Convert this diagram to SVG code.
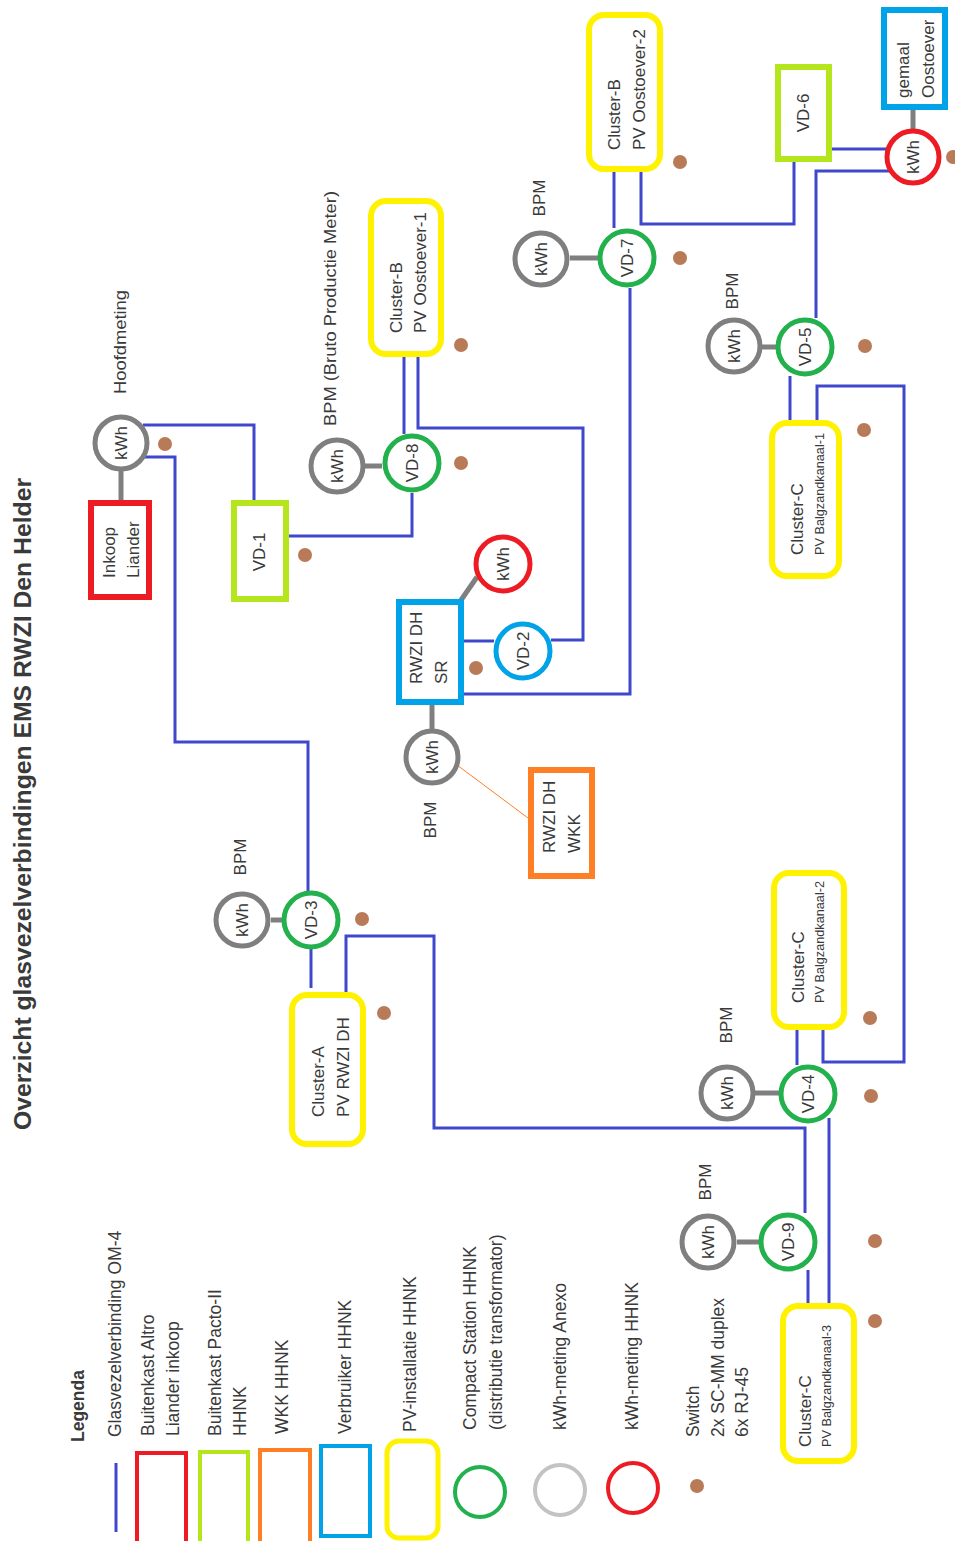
<svg xmlns="http://www.w3.org/2000/svg" width="955" height="1541" viewBox="0 0 955 1541">
<style>
.bg{fill:#ffffff}
.wire{fill:none;stroke:#3F48CC;stroke-width:3}
.link{fill:none;stroke:#7F7F7F;stroke-width:5}
.wkk{fill:none;stroke:#FF7F27;stroke-width:1}
.t{font-family:"Liberation Sans",Arial,sans-serif;font-size:17px;fill:#3A3A3A;dominant-baseline:central}
.s{font-size:12.7px}
.l{font-size:17.5px}
.m{text-anchor:middle}
.b{font-weight:bold}
.kwh{fill:#fff;stroke:#7F7F7F;stroke-width:5}
.kred{fill:#fff;stroke:#ED1C24;stroke-width:5}
.vd{fill:#fff;stroke:#22B14C;stroke-width:5}
.vdb{fill:#fff;stroke:#00A2E8;stroke-width:5}
.pv{fill:#fff;stroke:#FFF200;stroke-width:6}
.red{fill:#fff;stroke:#ED1C24;stroke-width:6}
.lime{fill:#fff;stroke:#B5E61D;stroke-width:6}
.blue{fill:#fff;stroke:#00A2E8;stroke-width:6}
.orange{fill:#fff;stroke:#FF7F27;stroke-width:6}
.dot{fill:#B97A57}
</style>
<rect class="bg" x="0" y="0" width="955" height="1541"/>

<text class="t b m" style="font-size:24px" transform="translate(22,804) rotate(-90)" textLength="652" lengthAdjust="spacingAndGlyphs">Overzicht glasvezelverbindingen EMS RWZI Den Helder</text>

<g id="connectors">
<path class="wire" d="M143,425 H254 V502"/>
<path class="wire" d="M143,457 H175 V742 H308 V892"/>
<path class="wire" d="M287,536 H412 V493"/>
<path class="wire" d="M404,355 V434"/>
<path class="wire" d="M418,355 V428 H583 V640 H551"/>
<path class="wire" d="M462,641 H494"/>
<path class="wire" d="M462,694 H630 V288"/>
<path class="wire" d="M614,170 V228"/>
<path class="wire" d="M641,170 V224 H794 V160"/>
<path class="wire" d="M830,149 H887"/>
<path class="wire" d="M889,171 H816 V318"/>
<path class="wire" d="M790,376 V422"/>
<path class="wire" d="M817,422 V386 H904 V1062 H823 V1028"/>
<path class="wire" d="M797,1028 V1065"/>
<path class="wire" d="M829,1118 V1305"/>
<path class="wire" d="M346,993 V936 H434 V1128 H805 V1213"/>
<path class="wire" d="M808,1270 V1305"/>
<path class="wire" d="M311,948 V988"/>
<path class="link" d="M121,470 V503"/>
<path class="link" d="M365,466 H382"/>
<path class="link" d="M570,258 H598"/>
<path class="link" d="M762,347 H776"/>
<path class="link" d="M271,920 H282"/>
<path class="link" d="M754,1093 H779"/>
<path class="link" d="M737,1242 H759"/>
<path class="link" d="M459,603 L477,577"/>
<path class="link" d="M432,704 V730"/>
<path class="link" d="M913,108 V130"/>
<path class="wkk" d="M457,765 L528,818"/>
</g>

<g id="hoofdmeting">
<circle class="kwh" cx="121" cy="443" r="26"/>
<text class="t m" transform="translate(121,443) rotate(-90)">kWh</text>
<text class="t m" transform="translate(120,342) rotate(-90)" textLength="104" lengthAdjust="spacingAndGlyphs">Hoofdmeting</text>
<circle class="dot" cx="165" cy="444" r="7"/>
</g>

<g id="inkoop-liander">
<rect class="red" x="91" y="503" width="58" height="94"/>
<text class="t" transform="translate(109,578) rotate(-90)">Inkoop</text>
<text class="t" transform="translate(133,578) rotate(-90)">Liander</text>
</g>

<g id="vd-1">
<rect class="lime" x="234" y="503" width="52" height="96"/>
<text class="t m" transform="translate(259,552) rotate(-90)">VD-1</text>
<circle class="dot" cx="305" cy="555" r="7"/>
</g>

<g id="vd-8">
<circle class="kwh" cx="337" cy="466" r="26"/>
<text class="t m" transform="translate(337,466) rotate(-90)">kWh</text>
<circle class="vd" cx="412" cy="463" r="27"/>
<text class="t m" transform="translate(412,463) rotate(-90)">VD-8</text>
<text class="t" transform="translate(330,426) rotate(-90)" textLength="235" lengthAdjust="spacingAndGlyphs">BPM  (Bruto Productie Meter)</text>
<circle class="dot" cx="461" cy="463" r="7"/>
</g>

<g id="cluster-b-1">
<rect class="pv" x="371" y="201" width="70" height="153" rx="15"/>
<text class="t" transform="translate(396,333) rotate(-90)">Cluster-B</text>
<text class="t" transform="translate(420,333) rotate(-90)">PV Oostoever-1</text>
<circle class="dot" cx="461" cy="345" r="7"/>
</g>

<g id="rwzi-dh-sr">
<rect class="blue" x="399" y="602" width="62" height="100"/>
<text class="t" transform="translate(416,684) rotate(-90)">RWZI DH</text>
<text class="t" transform="translate(441,684) rotate(-90)">SR</text>
<circle class="dot" cx="476" cy="668" r="7"/>
</g>

<g id="kwh-sr">
<circle class="kred" cx="503" cy="564" r="27"/>
<text class="t m" transform="translate(503,564) rotate(-90)">kWh</text>
</g>

<g id="vd-2">
<circle class="vdb" cx="523" cy="651" r="27"/>
<text class="t m" transform="translate(523,651) rotate(-90)">VD-2</text>
</g>

<g id="kwh-wkk">
<circle class="kwh" cx="432" cy="757" r="26"/>
<text class="t m" transform="translate(432,757) rotate(-90)">kWh</text>
<text class="t m" transform="translate(430,820) rotate(-90)">BPM</text>
</g>

<g id="rwzi-dh-wkk">
<rect class="orange" x="531" y="770" width="61" height="106"/>
<text class="t" transform="translate(549,853) rotate(-90)">RWZI DH</text>
<text class="t" transform="translate(574,853) rotate(-90)">WKK</text>
</g>

<g id="vd-7">
<circle class="kwh" cx="541" cy="259" r="26"/>
<text class="t m" transform="translate(541,259) rotate(-90)">kWh</text>
<text class="t m" transform="translate(539,198) rotate(-90)">BPM</text>
<circle class="vd" cx="627" cy="258" r="27"/>
<text class="t m" transform="translate(627,258) rotate(-90)">VD-7</text>
<circle class="dot" cx="680" cy="258" r="7"/>
</g>

<g id="cluster-b-2">
<rect class="pv" x="589" y="15" width="71" height="154" rx="15"/>
<text class="t" transform="translate(614,150) rotate(-90)">Cluster-B</text>
<text class="t" transform="translate(639,150) rotate(-90)">PV Oostoever-2</text>
<circle class="dot" cx="680" cy="162" r="7"/>
</g>

<g id="vd-6">
<rect class="lime" x="778" y="67" width="51" height="92"/>
<text class="t m" transform="translate(803,113) rotate(-90)">VD-6</text>
</g>

<g id="gemaal-oostoever">
<rect class="blue" x="884" y="10" width="61" height="97"/>
<text class="t" transform="translate(903,98) rotate(-90)">gemaal</text>
<text class="t" transform="translate(928,98) rotate(-90)">Oostoever</text>
</g>

<g id="kwh-gemaal">
<circle class="kred" cx="913" cy="157" r="26"/>
<text class="t m" transform="translate(913,157) rotate(-90)">kWh</text>
<circle class="dot" cx="953" cy="157" r="7"/>
</g>

<g id="vd-5">
<circle class="kwh" cx="734" cy="346" r="26"/>
<text class="t m" transform="translate(734,346) rotate(-90)">kWh</text>
<text class="t m" transform="translate(732,291) rotate(-90)">BPM</text>
<circle class="vd" cx="805" cy="347" r="27"/>
<text class="t m" transform="translate(805,347) rotate(-90)">VD-5</text>
<circle class="dot" cx="865" cy="346" r="7"/>
</g>

<g id="cluster-c-1">
<rect class="pv" x="772" y="423" width="67" height="153" rx="15"/>
<text class="t" transform="translate(797,555) rotate(-90)">Cluster-C</text>
<text class="t s" transform="translate(820,555) rotate(-90)">PV Balgzandkanaal-1</text>
<circle class="dot" cx="864" cy="430" r="7"/>
</g>

<g id="cluster-c-2">
<rect class="pv" x="774" y="873" width="70" height="154" rx="15"/>
<text class="t" transform="translate(798,1003) rotate(-90)">Cluster-C</text>
<text class="t s" transform="translate(820,1003) rotate(-90)">PV Balgzandkanaal-2</text>
<circle class="dot" cx="870" cy="1018" r="7"/>
</g>

<g id="vd-4">
<circle class="kwh" cx="727" cy="1093" r="26"/>
<text class="t m" transform="translate(727,1093) rotate(-90)">kWh</text>
<text class="t m" transform="translate(726,1025) rotate(-90)">BPM</text>
<circle class="vd" cx="808" cy="1094" r="27"/>
<text class="t m" transform="translate(808,1094) rotate(-90)">VD-4</text>
<circle class="dot" cx="871" cy="1096" r="7"/>
</g>

<g id="vd-9">
<circle class="kwh" cx="708" cy="1242" r="26"/>
<text class="t m" transform="translate(708,1242) rotate(-90)">kWh</text>
<text class="t m" transform="translate(705,1182) rotate(-90)">BPM</text>
<circle class="vd" cx="788" cy="1242" r="27"/>
<text class="t m" transform="translate(788,1242) rotate(-90)">VD-9</text>
<circle class="dot" cx="875" cy="1241" r="7"/>
</g>

<g id="cluster-c-3">
<rect class="pv" x="783" y="1306" width="71" height="155" rx="15"/>
<text class="t" transform="translate(805,1447) rotate(-90)">Cluster-C</text>
<text class="t s" transform="translate(827,1447) rotate(-90)">PV Balgzandkanaal-3</text>
<circle class="dot" cx="875" cy="1321" r="7"/>
</g>

<g id="vd-3">
<circle class="kwh" cx="242" cy="920" r="26"/>
<text class="t m" transform="translate(242,920) rotate(-90)">kWh</text>
<text class="t m" transform="translate(240,857) rotate(-90)">BPM</text>
<circle class="vd" cx="311" cy="920" r="27"/>
<text class="t m" transform="translate(311,920) rotate(-90)">VD-3</text>
<circle class="dot" cx="362" cy="919" r="7"/>
</g>

<g id="cluster-a">
<rect class="pv" x="292" y="995" width="71" height="149" rx="15"/>
<text class="t" transform="translate(318,1117) rotate(-90)">Cluster-A</text>
<text class="t" transform="translate(343,1117) rotate(-90)">PV RWZI DH</text>
<circle class="dot" cx="384" cy="1013" r="7"/>
</g>

<g id="legenda">
<text class="t b l" transform="translate(78,1442) rotate(-90)">Legenda</text>
<text class="t l" transform="translate(115,1437) rotate(-90)">Glasvezelverbinding OM-4</text>
<path d="M116,1463 V1532" stroke="#3F48CC" stroke-width="3" fill="none"/>
<text class="t l" transform="translate(148,1436) rotate(-90)">Buitenkast Altro</text>
<text class="t l" transform="translate(173,1436) rotate(-90)">Liander inkoop</text>
<rect x="137" y="1453" width="49" height="100" fill="#fff" stroke="#ED1C24" stroke-width="4"/>
<text class="t l" transform="translate(215,1436) rotate(-90)">Buitenkast Pacto-II</text>
<text class="t l" transform="translate(240,1436) rotate(-90)">HHNK</text>
<rect x="200" y="1452" width="48" height="100" fill="#fff" stroke="#B5E61D" stroke-width="4"/>
<text class="t l" transform="translate(282,1434) rotate(-90)">WKK HHNK</text>
<rect x="260" y="1450" width="50" height="100" fill="#fff" stroke="#FF7F27" stroke-width="4"/>
<text class="t l" transform="translate(345,1434) rotate(-90)">Verbruiker HHNK</text>
<rect x="321" y="1446" width="49" height="90" fill="#fff" stroke="#00A2E8" stroke-width="4"/>
<text class="t l" transform="translate(410,1432) rotate(-90)">PV-installatie HHNK</text>
<rect x="387" y="1441" width="51" height="97" rx="12" fill="#fff" stroke="#FFF200" stroke-width="5"/>
<text class="t l" transform="translate(470,1430) rotate(-90)">Compact Station HHNK</text>
<text class="t l" transform="translate(496,1430) rotate(-90)">(distributie transformator)</text>
<circle cx="480" cy="1492" r="25" fill="#fff" stroke="#22B14C" stroke-width="4"/>
<text class="t l" transform="translate(560,1430) rotate(-90)">kWh-meting Anexo</text>
<circle cx="560" cy="1490" r="25" fill="#fff" stroke="#C3C3C3" stroke-width="4"/>
<text class="t l" transform="translate(632,1430) rotate(-90)">kWh-meting HHNK</text>
<circle cx="633" cy="1488" r="25" fill="#fff" stroke="#ED1C24" stroke-width="4"/>
<text class="t l" transform="translate(693,1437) rotate(-90)">Switch</text>
<text class="t l" transform="translate(718,1437) rotate(-90)">2x SC-MM duplex</text>
<text class="t l" transform="translate(742,1437) rotate(-90)">6x RJ-45</text>
<circle class="dot" cx="697" cy="1486" r="7"/>
</g>
</svg>
